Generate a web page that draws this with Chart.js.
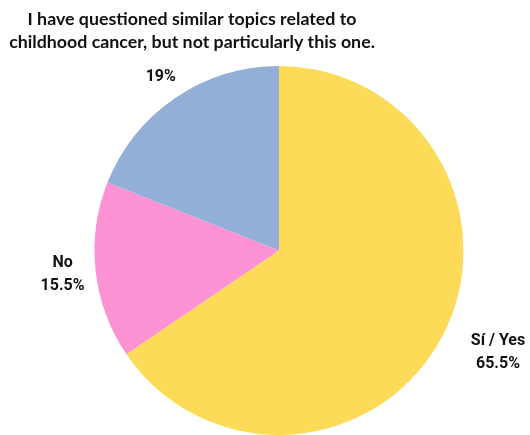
<!DOCTYPE html>
<html>
<head>
<meta charset="utf-8">
<script src="https://cdn.jsdelivr.net/npm/chart.js@4"></script>
<style>
  html, body { margin: 0; padding: 0; background: #fff; }
  #wrap { width: 530px; height: 435px; position: relative; }
</style>
</head>
<body>
<div id="wrap"><canvas id="pie"></canvas></div>
<script>
const titleLines = ['I have questioned similar topics related to', 'childhood cancer, but not particularly this one.'];
const categories = ['Sí / Yes', 'No', ''];
const shares = [65.5, 15.5, 19];
const sliceColors = ['#FDDB59', '#FD93D5', '#93AFD7'];

// label distance from the centre, as a share of the radius
const labelDist = [1.31, 1.18, 1.14];

const outsideLabels = {
    id: 'outsideLabels',
    afterDraw(chart) {
        const ctx = chart.ctx;
        ctx.save();
        ctx.fillStyle = '#111';
        ctx.textAlign = 'center';
        ctx.textBaseline = 'middle';
        ctx.font = 'bold 17.8px Lato';
        ctx.fillText(titleLines[0], 192, 19);
        ctx.fillText(titleLines[1], 192, 42);

        ctx.font = 'bold 16px Roboto';
        const arcs = chart.getDatasetMeta(0).data;
        arcs.forEach((arc, i) => {
            // nudge the big slice label a bit upward, like the original
            const mid = (arc.startAngle + arc.endAngle) / 2 - (i === 0 ? 0.05 : 0);
            const r = arc.outerRadius * labelDist[i];
            const x = arc.x + Math.cos(mid) * r;
            const y = arc.y + Math.sin(mid) * r;
            const lines = [];
            if (categories[i]) lines.push(categories[i]);
            lines.push(shares[i] + '%');
            const lh = 23;
            lines.forEach((t, k) => {
                ctx.fillText(t, x, y + (k - (lines.length - 1) / 2) * lh);
            });
        });
        ctx.restore();
    }
};

new Chart(document.getElementById('pie'), {
    type: 'pie',
    data: {
        labels: categories,
        datasets: [{
            data: shares,
            backgroundColor: sliceColors,
            borderWidth: 0
        }]
    },
    options: {
        responsive: true,
        maintainAspectRatio: false,
        animation: false,
        layout: {
            padding: { left: 94, right: 66, top: 66, bottom: 0 }
        },
        plugins: {
            legend: { display: false },
            tooltip: { enabled: false }
        }
    },
    plugins: [outsideLabels]
});
</script>
</body>
</html>
